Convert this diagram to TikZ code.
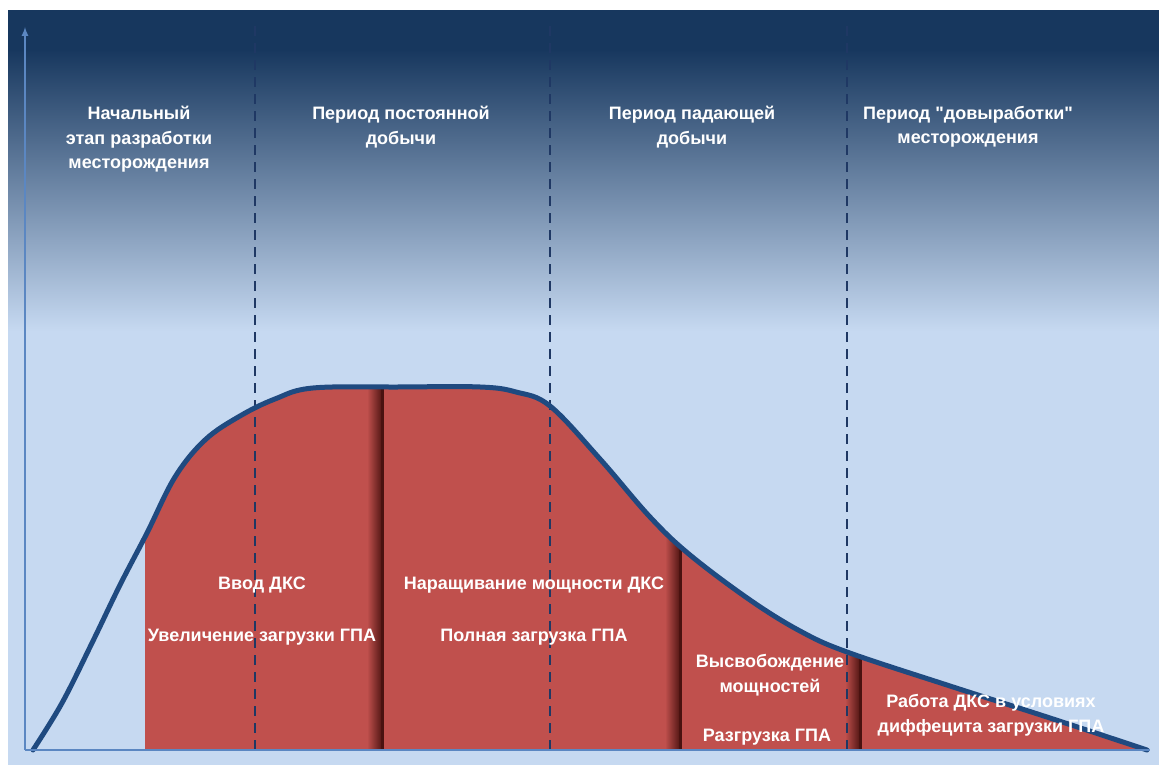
\documentclass[tikz,border=0pt]{standalone}
\usepackage{fontspec}
\setmainfont{Liberation Sans}
\usetikzlibrary{calc,positioning}

\definecolor{navy}{HTML}{17375E}
\definecolor{navymid}{HTML}{4D6C96}
\definecolor{paleblue}{HTML}{C6D9F1}
\definecolor{axisblue}{HTML}{5B87C2}
\definecolor{curveblue}{HTML}{1F4A80}
\definecolor{dashblue}{HTML}{1F3864}
\definecolor{fieldred}{HTML}{C0504D}
\definecolor{darkred}{HTML}{4A1210}

\tikzset{
  stage/.style={text=white,font=\bfseries\fontsize{18}{24.5}\selectfont,align=center,inner sep=0pt,anchor=north},
  task/.style={text=white,font=\bfseries\fontsize{18}{25}\selectfont,align=center,inner sep=0pt},
  axis/.style={axisblue,line width=2pt},
  period/.style={dashblue,line width=2pt,dash pattern=on 10pt off 7pt},
  output/.style={curveblue,line width=5pt,line join=round,line cap=round}
}

\begin{document}
\begin{tikzpicture}[x=1pt,y=1pt]
    \useasboundingbox (0,0) rectangle (1159,765);
    \fill[white] (0,0) rectangle (1159,765);

    % background
    \fill[paleblue] (8,0) rectangle (1159,440);
    \shade[top color=navy,middle color=navymid,bottom color=paleblue] (8,434) rectangle (1159,716);
    \fill[navy] (8,714) rectangle (1159,755);

    \coordinate (O) at (25,15);
    \coordinate (ytop) at (25,738);
    \coordinate (xend) at (1150,15);

    % production curve
    \def\prodpts{(33,15) (62,62) (92,122) (120,180) (147,232) (175,288) (205,325)
      (240,349) (275,366) (313,377) (400,378) (480,378) (516,373) (550,359)
      (600,306) (650,248) (690,210) (750,165) (800,134) (847,113) (950,79)
      (1050,47) (1147,15)}

    \begin{scope}
      \clip plot[smooth,tension=0.6] coordinates {\prodpts} -- cycle;
      \fill[fieldred] (145,15) rectangle (1150,400);
      \foreach \s in {383,681,861}{
        \shade[left color=fieldred,right color=darkred] (\s-16,15) rectangle (\s,400);
        \fill[darkred] (\s-2,15) rectangle (\s+1,400);
      }
    \end{scope}

    % periods
    \foreach \x in {255,550,847}
      \draw[period] (\x,15) -- (\x,740);

    \draw[output] plot[smooth,tension=0.6] coordinates {\prodpts};

    \draw[axis,-latex] (O) -- (ytop);
    \draw[axis] (O) -- (xend);

    \node[stage] (start) at (139,659) {Начальный\\этап разработки\\месторождения};
    \node[stage] (plateau) at (401,659) {Период постоянной\\добычи};
    \node[stage] (decline) at (692,659) {Период падающей\\добычи};
    \node[stage] (tail) at (968,659) {Период \textquotedbl довыработки\textquotedbl\\месторождения};

    \node[task] (dks) at (262,180) {Ввод ДКС};
    \node[task] (loadup) at (262,128) {Увеличение загрузки ГПА};
    \node[task] (grow) at (534,180) {Наращивание мощности ДКС};
    \node[task] (full) at (534,128) {Полная загрузка ГПА};
    \node[task] (release) at (770,90) {Высвобождение\\мощностей};
    \node[task] (unload) at (767,28) {Разгрузка ГПА};
    \node[task] (deficit) at (991,50) {Работа ДКС в условиях\\диффецита загрузки ГПА};
\end{tikzpicture}
\end{document}
